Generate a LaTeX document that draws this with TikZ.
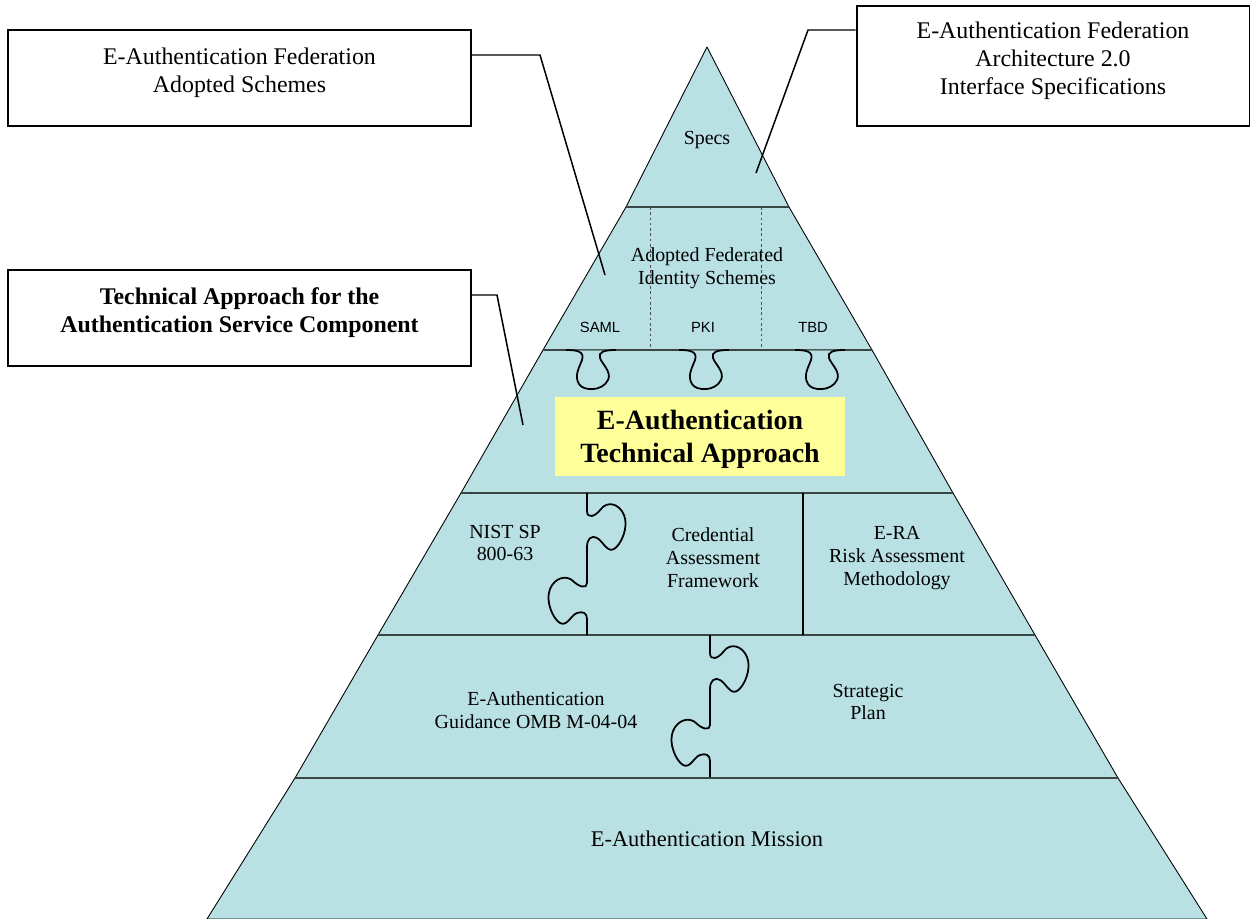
\documentclass[tikz,border=0pt]{standalone}
\usepackage{fontspec}
\setmainfont{Liberation Serif}
\newfontfamily\arialf{Liberation Sans}
\definecolor{pyr}{RGB}{185,224,227}
\definecolor{sepc}{RGB}{58,70,70}
\definecolor{hl}{RGB}{255,255,153}
\begin{document}
\begin{tikzpicture}[x=0.02cm,y=-0.02cm,
  layer/.style={fill=pyr,draw=black,line width=0.5pt,line join=round},
  sepline/.style={draw=sepc,line width=1.3pt},
  knob/.style={draw=black,line width=1pt},
  box/.style={draw=black,line width=1.1pt,fill=white,inner sep=0pt},
  conn/.style={draw=black,line width=0.85pt},
  txt/.style={font=\fontsize{11.34}{13}\selectfont,align=center,inner sep=0pt},
  btxt/.style={font=\fontsize{13.6}{15.9}\selectfont,align=center,inner sep=0pt},
  stxt/.style={font=\arialf\fontsize{8.4}{10}\selectfont,inner sep=0pt},
  htab/.pic={\draw[knob] (0,0) .. controls (10,0) and (19,1) .. (16,10)
      .. controls (13,18) and (8,26) .. (13,34)
      .. controls (17,41) and (36,42) .. (42,30)
      .. controls (46,22) and (36,14) .. (34,8)
      .. controls (32,2) and (38,0) .. (50,0);},
  vtab/.pic={\draw[knob] (0,0) -- (0,18)
      .. controls (0,26) and (8,24) .. (14,16)
      .. controls (20,8) and (32,10) .. (37,22)
      .. controls (42,34) and (34,52) .. (27,56)
      .. controls (20,60) and (16,48) .. (10,45)
      .. controls (4,42) and (0,46) .. (0,54)
      -- (0,90)
      .. controls (0,96) and (-8,94) .. (-14,88)
      .. controls (-20,82) and (-32,84) .. (-37,96)
      .. controls (-42,108) and (-34,126) .. (-27,130)
      .. controls (-20,134) and (-16,122) .. (-10,120)
      .. controls (-4,118) and (0,120) .. (0,126)
      -- (0,142);}
]
\useasboundingbox (0,0) rectangle (1251,919);

% pyramid layers
\path[layer] (707,47) -- (626,207) -- (789,207) -- cycle;
\path[layer] (626,207) -- (789,207) -- (872,350) -- (543,350) -- cycle;
\path[layer] (543,350) -- (872,350) -- (953,493) -- (461,493) -- cycle;
\path[layer] (461,493) -- (953,493) -- (1035,635) -- (378,635) -- cycle;
\path[layer] (378,635) -- (1035,635) -- (1118,778) -- (295,778) -- cycle;
\path[layer] (295,778) -- (1118,778) -- (1207,919) -- (207,919) -- cycle;

% dashed dividers in schemes layer
\draw[black!70,line width=0.4pt,dash pattern=on 1.5pt off 1.5pt] (650,207) -- (650,350);
\draw[black!70,line width=0.4pt,dash pattern=on 1.5pt off 1.5pt] (761,207) -- (761,350);

% separators
\draw[sepline] (626,207) -- (789,207);
\draw[sepline] (543,350) -- (566,350);
\draw[sepline] (616,350) -- (679,350);
\draw[sepline] (729,350) -- (795,350);
\draw[sepline] (845,350) -- (872,350);
\draw[sepline] (461,493) -- (953,493);
\draw[sepline] (378,635) -- (1035,635);
\draw[sepline] (295,778) -- (1118,778);
\draw[black,line width=1.1pt] (803,493) -- (803,635);

% puzzle tabs
\pic at (566,350) {htab};
\pic at (679,350) {htab};
\pic at (795,350) {htab};
\pic at (587,493) {vtab};
\pic at (710,635) {vtab};

% pyramid texts
\node[txt] (specs) at (707,140) {Specs};
\node[txt] (adopted) at (707,268) {Adopted Federated\\Identity Schemes};
\node[stxt] (saml) at (600,327) {SAML};
\node[stxt] (pki) at (703,327) {PKI};
\node[stxt] (tbd) at (813,327) {TBD};
\node[fill=hl,minimum width=5.8cm,minimum height=1.58cm,inner sep=0pt] (tabox) at (700,436.5) {};
\node[font=\bfseries\fontsize{15.87}{18.6}\selectfont,align=center,inner sep=0pt] (tatext) at (700,439) {E-Authentication\\Technical Approach};
\node[txt] (nist) at (505,543) {NIST SP\\800-63};
\node[txt] (caf) at (713,558) {Credential\\Assessment\\Framework};
\node[txt] (era) at (897,558) {E-RA\\Risk Assessment\\Methodology};
\node[txt] (omb) at (536,710) {E-Authentication\\Guidance OMB M-04-04};
\node[txt] (plan) at (868,702) {Strategic\\Plan};
\node[font=\fontsize{12.76}{15}\selectfont,inner sep=0pt] (mission) at (707,839) {E-Authentication Mission};

% callout boxes
\node[box,minimum width=9.26cm,minimum height=1.92cm] (boxA) at (239.5,78) {};
\node[btxt] (boxAt) at (239.5,73) {E-Authentication Federation\\Adopted Schemes};
\node[box,minimum width=9.26cm,minimum height=1.92cm] (boxB) at (239.5,318) {};
\node[btxt,font=\bfseries\fontsize{13.6}{15.9}\selectfont] (boxBt) at (239.5,313) {Technical Approach for the\\Authentication Service Component};
\node[box,minimum width=7.86cm,minimum height=2.4cm] (boxC) at (1053,66) {};
\node[btxt] (boxCt) at (1053,61) {E-Authentication Federation\\Architecture 2.0\\Interface Specifications};

% connectors
\coordinate (aCorner) at (540,55);
\coordinate (aEnd) at (605,275);
\coordinate (bCorner) at (497,295);
\coordinate (bEnd) at (523,425);
\coordinate (cCorner) at (808,30);
\coordinate (cEnd) at (756,173);
\draw[conn] (aCorner -| boxA.east) -- (aCorner) -- (aEnd);
\draw[conn] (bCorner -| boxB.east) -- (bCorner) -- (bEnd);
\draw[conn] (cCorner -| boxC.west) -- (cCorner) -- (cEnd);
\end{tikzpicture}
\end{document}
